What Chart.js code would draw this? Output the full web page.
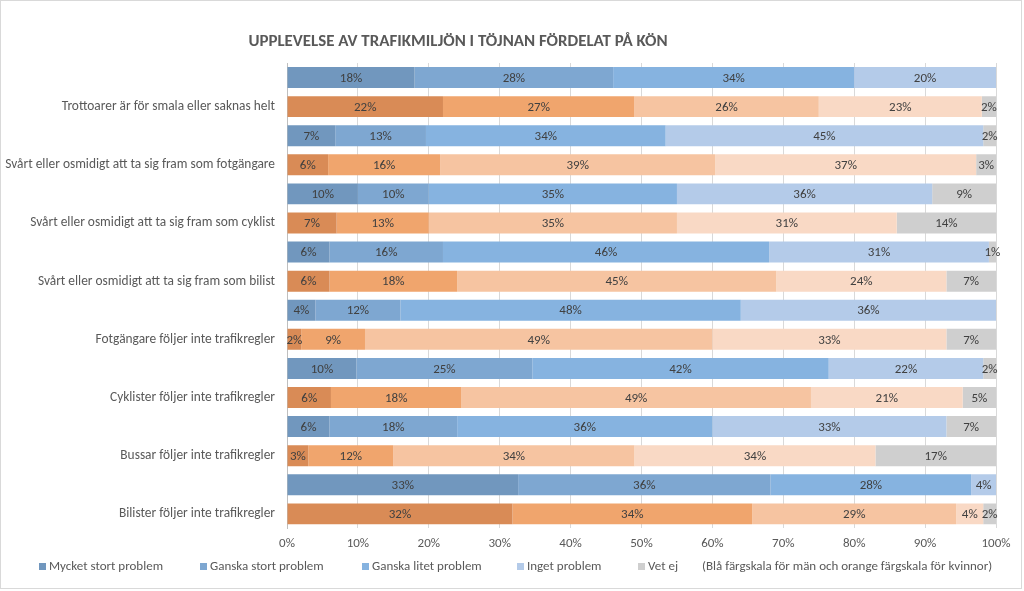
<!DOCTYPE html>
<html>
<head>
<meta charset="utf-8">
<script src="https://cdn.jsdelivr.net/npm/chart.js@4.4.1/dist/chart.umd.min.js"></script>
<style>
  html, body { margin: 0; padding: 0; background: #ffffff; }
  #wrap { position: absolute; left: 0; top: 0; width: 1020px; height: 587px; border: 1px solid #d9d9d9; }
  #c { position: absolute; left: 0; top: 0; }
</style>
</head>
<body>
<div id="wrap"></div>
<canvas id="c" width="1024" height="591"></canvas>
<script>
const titleText = "UPPLEVELSE AV TRAFIKMILJÖN I TÖJNAN FÖRDELAT PÅ KÖN";
const categories = [
  "Trottoarer är för smala eller saknas helt",
  "Svårt eller osmidigt att ta sig fram som fotgängare",
  "Svårt eller osmidigt att ta sig fram som cyklist",
  "Svårt eller osmidigt att ta sig fram som bilist",
  "Fotgängare följer inte trafikregler",
  "Cyklister följer inte trafikregler",
  "Bussar följer inte trafikregler",
  "Bilister följer inte trafikregler"
];
const seriesNames = ["Mycket stort problem", "Ganska stort problem", "Ganska litet problem", "Inget problem", "Vet ej"];
const legendNote = "(Blå färgskala för män och orange färgskala för kvinnor)";
const xTicks = [0, 10, 20, 30, 40, 50, 60, 70, 80, 90, 100];

// Men (blue) – percent, estimated from bar lengths where labels round
const menMycketStort = [18, 6.8, 10, 6, 4, 9.8, 6, 32.6];
const menGanskaStort = [28, 12.8, 10, 16, 12, 24.8, 18, 35.6];
const menGanskaLitet = [34, 33.8, 35, 46, 48, 41.8, 36, 28.3];
const menInget       = [20, 44.8, 36, 31, 36, 21.8, 33, 3.5];
const menVetEj       = [0, 1.8, 9, 1, 0, 1.8, 7, 0];
// Women (orange)
const womenMycketStort = [22, 5.8, 7, 6, 2, 6.2, 3, 31.8];
const womenGanskaStort = [27, 15.8, 13, 18, 9, 18.4, 12, 33.8];
const womenGanskaLitet = [26, 38.8, 35, 45, 49, 49.3, 34, 28.8];
const womenInget       = [23, 36.8, 31, 24, 33, 21.4, 34, 3.8];
const womenVetEj       = [2, 2.8, 14, 7, 7, 4.7, 17, 1.8];

const menColors = ["#7197be", "#7ea7d1", "#86b3e0", "#b4cbe9", "#cfcfcf"];
const womenColors = ["#d98b56", "#f0a56d", "#f6c4a1", "#f9d9c5", "#cfcfcf"];
const legendBoxX = [39, 200, 362, 517, 638];
const legendNoteX = 702;

const menSeries = [menMycketStort, menGanskaStort, menGanskaLitet, menInget, menVetEj];
const womenSeries = [womenMycketStort, womenGanskaStort, womenGanskaLitet, womenInget, womenVetEj];

const rowLabels = [];
categories.forEach(c => { rowLabels.push(""); rowLabels.push(c); });

const datasets = seriesNames.map((name, s) => {
  const data = [], colors = [];
  categories.forEach((c, i) => {
    data.push(menSeries[s][i]); colors.push(menColors[s]);
    data.push(womenSeries[s][i]); colors.push(womenColors[s]);
  });
  return { label: name, data: data, backgroundColor: colors, borderWidth: 0,
           barPercentage: 0.72, categoryPercentage: 1.0 };
});

const FONT = "Carlito, Lato, 'Liberation Sans', sans-serif";
const TXT = "#595959";

const segLabels = {
  id: "segLabels",
  afterDatasetsDraw(chart) {
    const ctx = chart.ctx;
    ctx.save();
    ctx.font = "13px " + FONT;
    ctx.fillStyle = "#404040";
    ctx.textAlign = "center";
    ctx.textBaseline = "middle";
    chart.data.datasets.forEach((ds, di) => {
      const meta = chart.getDatasetMeta(di);
      meta.data.forEach((el, i) => {
        const v = ds.data[i];
        if (!v) return;
        const right = Math.min(el.x, chart.chartArea.right);
        const left = Math.min(el.base, chart.chartArea.right);
        ctx.fillText(Math.round(v) + "%", (left + right) / 2, el.y + 1);
      });
    });
    ctx.restore();
  }
};

const extrasPlugin = {
  id: "extras",
  afterDraw(chart) {
    const ctx = chart.ctx;
    ctx.save();
    ctx.font = "bold 16.9px " + FONT;
    ctx.fillStyle = TXT;
    ctx.textAlign = "center";
    ctx.textBaseline = "middle";
    ctx.fillText(titleText, 458, 42);
    // legend
    ctx.font = "13px " + FONT;
    ctx.textAlign = "left";
    const ly = 567;
    seriesNames.forEach((n, s) => {
      ctx.fillStyle = menColors[s];
      ctx.fillRect(legendBoxX[s], ly - 4, 7, 7);
      ctx.fillStyle = TXT;
      ctx.fillText(n, legendBoxX[s] + 10, ly);
    });
    ctx.fillText(legendNote, legendNoteX, ly);
    ctx.restore();
  }
};

new Chart(document.getElementById("c"), {
  type: "bar",
  data: { labels: rowLabels, datasets: datasets },
  plugins: [segLabels, extrasPlugin],
  options: {
    indexAxis: "y",
    responsive: false,
    animation: false,
    layout: { padding: { top: 63, right: 28, left: 0, bottom: 31 } },
    scales: {
      x: {
        stacked: true, min: 0, max: 100,
        afterBuildTicks(scale) { scale.ticks = xTicks.map(v => ({ value: v })); },
        grid: { color: "#d9d9d9", drawTicks: false },
        border: { display: false },
        ticks: { padding: 8, color: TXT, font: { family: FONT, size: 13 }, callback: v => v + "%", maxRotation: 0 }
      },
      y: {
        stacked: true,
        afterFit(scale) { scale.width = 287; },
        grid: { display: false, drawTicks: false },
        border: { display: true, color: "#bfbfbf" },
        ticks: { padding: 12, color: TXT, font: { family: FONT, size: 13.4 }, autoSkip: false, crossAlign: "near" }
      }
    },
    plugins: {
      title: { display: false },
      tooltip: { enabled: false },
      legend: { display: false }
    }
  }
});
</script>
</body>
</html>
